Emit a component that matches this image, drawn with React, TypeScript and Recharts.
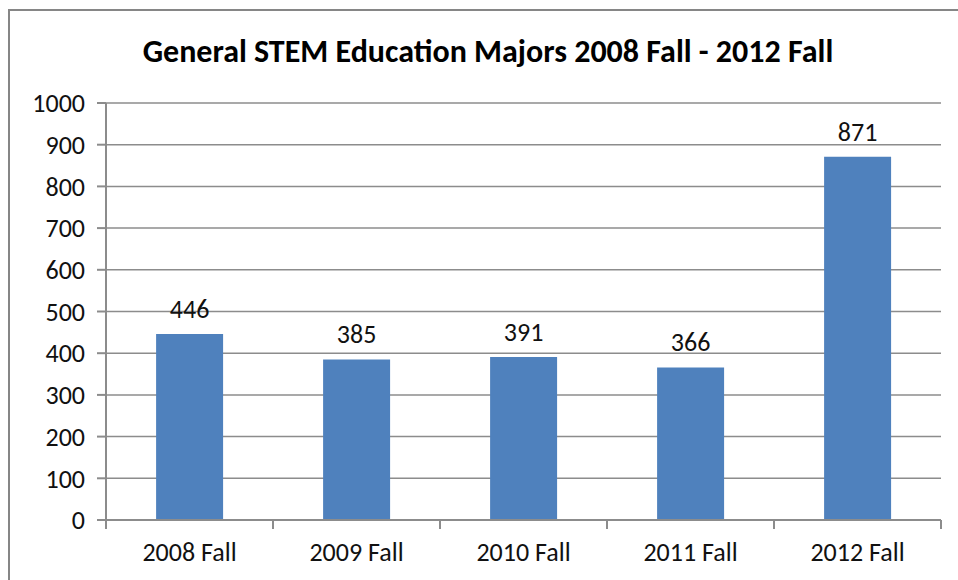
import { BarChart, Bar, XAxis, YAxis, CartesianGrid, LabelList } from "recharts";

const terms = ["2008 Fall", "2009 Fall", "2010 Fall", "2011 Fall", "2012 Fall"];
const majors = [446, 385, 391, 366, 871];
const yTicks = [0, 100, 200, 300, 400, 500, 600, 700, 800, 900, 1000];

const data = terms.map((term, i) => ({ term, majors: majors[i] }));

const W = 958;
const H = 580;
const PLOT_LEFT = 106;
const PLOT_RIGHT = 941;
const FONT = "Carlito, Calibri, Lato, sans-serif";
const GRID = "#8c8c8c";

const halfBand = (PLOT_RIGHT - PLOT_LEFT) / terms.length / 2;

function CategoryTick(props: any) {
  const { x, y, payload, index } = props;
  const axisY = y - 9 - 14;
  return (
    <g>
      <line x1={x - halfBand} x2={x - halfBand} y1={axisY} y2={axisY + 9} stroke={GRID} strokeWidth={2} />
      {index === terms.length - 1 && (
        <line x1={x + halfBand} x2={x + halfBand} y1={axisY} y2={axisY + 9} stroke={GRID} strokeWidth={2} />
      )}
      <text x={x} y={y} dy="0.71em" textAnchor="middle" fill="#111" fontSize={26} fontFamily={FONT}>
        {payload.value}
      </text>
    </g>
  );
}

export default function App() {
  return (
    <div style={{ position: "absolute", left: 0, top: 0, width: W, height: H, overflow: "hidden", background: "#fff" }}>
      <div
        style={{
          position: "absolute",
          left: 8,
          top: 9,
          width: W,
          height: H,
          borderLeft: "2px solid #868686",
          borderTop: "2px solid #868686",
        }}
      />
      <div
        style={{
          position: "absolute",
          left: 0,
          width: 976,
          top: 32,
          lineHeight: "40px",
          textAlign: "center",
          fontFamily: FONT,
          fontWeight: 700,
          fontSize: 32,
          color: "#000",
        }}
      >
        General STEM Education Majors 2008 Fall - 2012 Fall
      </div>
      <BarChart
        width={W}
        height={H}
        data={data}
        margin={{ top: 103, right: W - PLOT_RIGHT, bottom: 30, left: 0 }}
        barCategoryGap="30%"
        style={{ position: "absolute", left: 0, top: 0 }}
      >
        <CartesianGrid vertical={false} stroke={GRID} strokeWidth={1.5} />
        <XAxis
          dataKey="term"
          height={30}
          tickLine={false}
          tickSize={9}
          tickMargin={14}
          axisLine={{ stroke: GRID, strokeWidth: 2 }}
          tick={<CategoryTick />}
          interval={0}
        />
        <YAxis
          width={PLOT_LEFT}
          domain={[0, 1000]}
          ticks={yTicks}
          interval={0}
          tickSize={9}
          tickMargin={12}
          tickLine={{ stroke: GRID, strokeWidth: 2 }}
          axisLine={{ stroke: GRID, strokeWidth: 2 }}
          tick={{ fill: "#111", fontSize: 26, fontFamily: FONT }}
        />
        <Bar dataKey="majors" fill="#4f81bd" isAnimationActive={false}>
          <LabelList dataKey="majors" position="top" offset={16} fill="#111" fontSize={26} fontFamily={FONT} />
        </Bar>
      </BarChart>
    </div>
  );
}
